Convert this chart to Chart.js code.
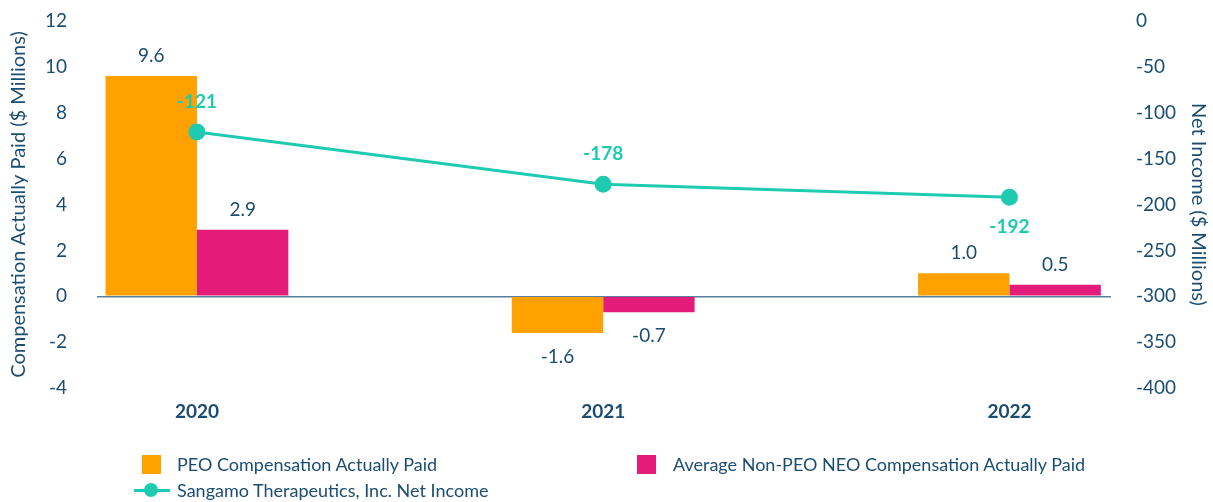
<!DOCTYPE html>
<html>
<head>
<meta charset="utf-8">
<script src="https://cdn.jsdelivr.net/npm/chart.js@4"></script>
<style>
  html, body { margin: 0; padding: 0; background: #fff; }
  #wrap { position: relative; width: 1213px; height: 502px; font-family: Lato, "Open Sans", sans-serif; color: #1b4d72; }
  #chart { position: absolute; left: 0; top: 0; }
  .leg { position: absolute; font-size: 18px; line-height: 20px; white-space: nowrap; }
  .sw { position: absolute; width: 19px; height: 19px; }
  .ln { position: absolute; width: 36px; height: 3px; background: #1ecbb1; }
  .dot { position: absolute; width: 14px; height: 14px; border-radius: 50%; background: #1ecbb1; }
</style>
</head>
<body>
<div id="wrap">
  <canvas id="chart" width="1213" height="502"></canvas>
  <div id="legend"></div>
</div>
<script>
// ===== Data =====
const years = ["2020", "2021", "2022"];
const peoPaid = [9.6, -1.6, 1.0];
const nonPeoPaid = [2.9, -0.7, 0.5];
const netIncome = [-121, -178, -192];
const leftTicks = [-4, -2, 0, 2, 4, 6, 8, 10, 12];
const rightTicks = [-400, -350, -300, -250, -200, -150, -100, -50, 0];

const ORANGE = "#ffa200";
const MAGENTA = "#e21c78";
const TEAL = "#1ecbb1";
const TEXT = "#1b4d72";
const FONT = "Lato, 'Open Sans', sans-serif";

// labels on bars and line points
const valueLabels = {
  id: "valueLabels",
  afterDatasetsDraw(chart) {
    const ctx = chart.ctx;
    ctx.save();
    ctx.textAlign = "center";
    ctx.textBaseline = "middle";
    chart.data.datasets.forEach((ds, di) => {
      const meta = chart.getDatasetMeta(di);
      meta.data.forEach((el, i) => {
        const v = ds.data[i];
        if (ds.type === "line") {
          ctx.font = "bold 19px " + FONT;
          ctx.fillStyle = TEAL;
          // last point gets its label underneath
          const dy = i === ds.data.length - 1 ? 30 : -30;
          ctx.fillText(String(v), el.x, el.y + dy);
        } else {
          ctx.font = "19px " + FONT;
          ctx.fillStyle = TEXT;
          const y = v >= 0 ? el.y - 20 : el.y + 24;
          ctx.fillText(v.toFixed(1), el.x, y);
        }
      });
    });
    ctx.restore();
  },
};

// fixed axis widths so the plot area lines up
const fitVertical = (w) => (s) => {
  s.width = w;
  s.paddingTop = 0;
  s.paddingBottom = 0;
};

new Chart(document.getElementById("chart"), {
  data: {
    labels: years,
    datasets: [
      {
        type: "line",
        label: "Sangamo Therapeutics, Inc. Net Income",
        data: netIncome,
        yAxisID: "y1",
        borderColor: TEAL,
        backgroundColor: TEAL,
        borderWidth: 3,
        pointRadius: 7,
        pointHoverRadius: 7,
        tension: 0,
        order: 0,
      },
      {
        type: "bar",
        label: "PEO Compensation Actually Paid",
        data: peoPaid,
        yAxisID: "y",
        backgroundColor: ORANGE,
        categoryPercentage: 0.45,
        barPercentage: 1.0,
        order: 1,
      },
      {
        type: "bar",
        label: "Average Non-PEO NEO Compensation Actually Paid",
        data: nonPeoPaid,
        yAxisID: "y",
        backgroundColor: MAGENTA,
        categoryPercentage: 0.45,
        barPercentage: 1.0,
        order: 1,
      },
    ],
  },
  options: {
    responsive: false,
    animation: false,
    layout: { padding: { top: 21, bottom: 80, left: 0, right: 0 } },
    plugins: { legend: { display: false }, tooltip: { enabled: false } },
    scales: {
      x: {
        type: "linear",
        offset: false,
        min: 2019.754,
        max: 2022.25,
        border: { display: false },
        grid: { display: false, drawTicks: false, offset: false },
        ticks: {
          stepSize: 1,
          includeBounds: false,
          padding: 12,
          color: TEXT,
          font: { family: FONT, size: 19, weight: "bold" },
          callback: (v) => (Number.isInteger(v) ? String(v) : ""),
        },
        afterFit: (s) => { s.height = 502 - 388 - 80; },
      },
      y: {
        position: "left",
        min: leftTicks[0],
        max: leftTicks[leftTicks.length - 1],
        border: { display: false },
        grid: {
          drawTicks: false,
          lineWidth: 1.5,
          color: (c) => (c.tick && c.tick.value === 0 ? "#5b7f9c" : "transparent"),
        },
        afterBuildTicks: (s) => { s.ticks = leftTicks.map((v) => ({ value: v })); },
        ticks: { padding: 30, color: TEXT, font: { family: FONT, size: 19 } },
        title: {
          display: true,
          text: "Compensation Actually Paid ($ Millions)",
          color: TEXT,
          font: { family: FONT, size: 20 },
          padding: { top: 7, bottom: 0 },
        },
        afterFit: fitVertical(97),
      },
      y1: {
        position: "right",
        min: rightTicks[0],
        max: rightTicks[rightTicks.length - 1],
        border: { display: false },
        grid: { display: false, drawTicks: false },
        afterBuildTicks: (s) => { s.ticks = rightTicks.map((v) => ({ value: v })); },
        ticks: { padding: 25, color: TEXT, font: { family: FONT, size: 19 } },
        title: {
          display: true,
          text: "Net Income ($ Millions)",
          color: TEXT,
          font: { family: FONT, size: 20 },
          padding: { top: 3, bottom: 0 },
        },
        afterFit: fitVertical(102),
      },
    },
  },
  plugins: [valueLabels],
});

// ===== Legend =====
const legend = document.getElementById("legend");
legend.innerHTML = `
  <div class="sw" style="left:142px;top:455px;background:${ORANGE}"></div>
  <div class="leg" style="left:177px;top:454px">PEO Compensation Actually Paid</div>
  <div class="sw" style="left:637px;top:455px;background:${MAGENTA}"></div>
  <div class="leg" style="left:673px;top:454px">Average Non-PEO NEO Compensation Actually Paid</div>
  <div class="ln" style="left:134px;top:489px"></div>
  <div class="dot" style="left:144px;top:483px"></div>
  <div class="leg" style="left:177px;top:480px">Sangamo Therapeutics, Inc. Net Income</div>
`;
</script>
</body>
</html>
